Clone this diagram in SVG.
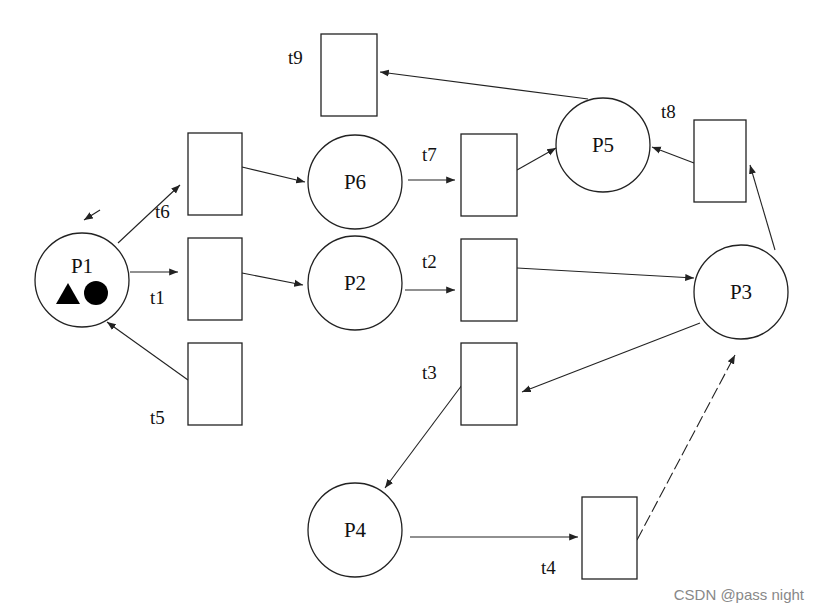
<svg xmlns="http://www.w3.org/2000/svg" width="821" height="613" viewBox="0 0 821 613">
<style>
.n{fill:#fff;stroke:#222;stroke-width:1.3}
.c{fill:none;stroke:#222;stroke-width:1.1;marker-end:url(#a)}
.l{font-family:"Liberation Serif",serif;font-size:19px;fill:#111}
.p{font-family:"Liberation Serif",serif;font-size:21px;fill:#111;text-anchor:middle}
</style>
<defs><marker id="a" viewBox="0 0 10 10" refX="10" refY="5" markerWidth="8" markerHeight="8" orient="auto"><path d="M0,1 L10,5 L0,9 z" fill="#222"/></marker></defs>
<rect width="821" height="613" fill="#fff"/>
<g id="connectors">
<line class="c" x1="118" y1="243" x2="180" y2="185"/>
<line class="c" x1="130" y1="272" x2="178" y2="272"/>
<line class="c" x1="188" y1="380" x2="107" y2="322"/>
<line class="c" x1="242" y1="167" x2="305" y2="182"/>
<line class="c" x1="242" y1="273" x2="303" y2="285"/>
<line class="c" x1="408" y1="180" x2="455" y2="180"/>
<line class="c" x1="517" y1="170" x2="556" y2="148"/>
<line class="c" x1="588" y1="99" x2="380" y2="72"/>
<line class="c" x1="694" y1="163" x2="652" y2="147"/>
<line class="c" x1="775" y1="250" x2="750" y2="165"/>
<line class="c" x1="405" y1="290" x2="455" y2="290"/>
<line class="c" x1="517" y1="268" x2="694" y2="278"/>
<line class="c" x1="700" y1="323" x2="522" y2="392"/>
<line class="c" x1="462" y1="385" x2="385" y2="488"/>
<line class="c" x1="410" y1="537" x2="578" y2="537"/>
<line class="c" x1="637" y1="540" x2="735" y2="355" stroke-dasharray="12,4"/>
<line class="c" x1="100" y1="210" x2="84" y2="220"/>
</g>
<g id="P1"><circle class="n" cx="82" cy="280" r="47"/><text class="p" x="82" y="273">P1</text><path d="M56,304 L68,283 L80,304 z" fill="#000"/><circle cx="96" cy="293" r="12" fill="#000"/></g>
<g id="P6"><circle class="n" cx="355" cy="182" r="47"/><text class="p" x="355" y="189">P6</text></g>
<g id="P2"><circle class="n" cx="355" cy="283" r="47"/><text class="p" x="355" y="290">P2</text></g>
<g id="P5"><circle class="n" cx="603" cy="145" r="47"/><text class="p" x="603" y="152">P5</text></g>
<g id="P3"><circle class="n" cx="741" cy="292" r="47"/><text class="p" x="741" y="299">P3</text></g>
<g id="P4"><circle class="n" cx="355" cy="530" r="47"/><text class="p" x="355" y="537">P4</text></g>
<g id="t9"><rect class="n" x="321" y="34" width="56" height="82"/><text class="l" x="288" y="64">t9</text></g>
<g id="t6"><rect class="n" x="188" y="133" width="54" height="82"/><text class="l" x="155" y="218">t6</text></g>
<g id="t1"><rect class="n" x="188" y="238" width="54" height="82"/><text class="l" x="150" y="304">t1</text></g>
<g id="t5"><rect class="n" x="188" y="343" width="54" height="82"/><text class="l" x="150" y="424">t5</text></g>
<g id="t7"><rect class="n" x="461" y="134" width="56" height="82"/><text class="l" x="422" y="161">t7</text></g>
<g id="t2"><rect class="n" x="461" y="239" width="56" height="82"/><text class="l" x="422" y="268">t2</text></g>
<g id="t3"><rect class="n" x="461" y="343" width="56" height="82"/><text class="l" x="422" y="379">t3</text></g>
<g id="t8"><rect class="n" x="694" y="120" width="52" height="82"/><text class="l" x="661" y="118">t8</text></g>
<g id="t4"><rect class="n" x="582" y="497" width="55" height="82"/><text class="l" x="541" y="574">t4</text></g>
<text x="804" y="600" font-family="Liberation Sans,sans-serif" font-size="15" fill="#888" text-anchor="end">CSDN @pass night</text>
</svg>
